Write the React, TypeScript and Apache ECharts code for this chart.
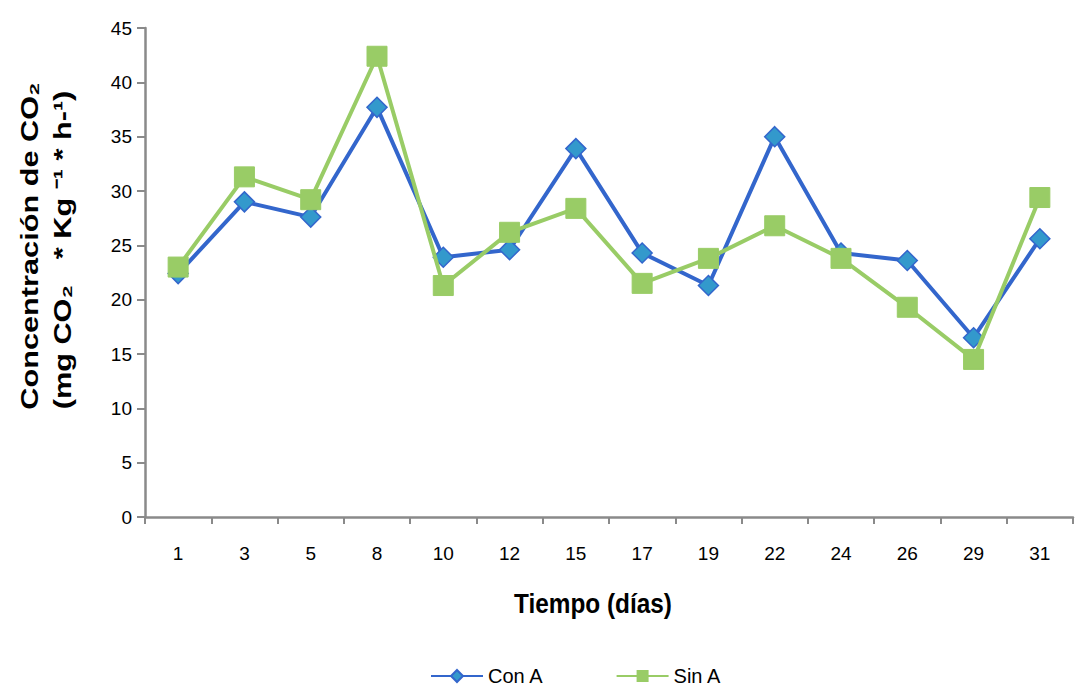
import React, { useEffect, useRef } from "react";
import * as echarts from "echarts";

const days = ["1", "3", "5", "8", "10", "12", "15", "17", "19", "22", "24", "26", "29", "31"];
const conA = [22.4, 29.0, 27.6, 37.7, 23.9, 24.6, 33.9, 24.3, 21.3, 35.0, 24.3, 23.6, 16.5, 25.6];
const sinA = [23.0, 31.3, 29.2, 42.4, 21.3, 26.2, 28.4, 21.5, 23.8, 26.8, 23.8, 19.3, 14.5, 29.4];
const yTitle1 = "Concentración de CO₂";
const yTitle2 = "(mg CO₂   * Kg ⁻¹ * h-¹)";
const xTitle = "Tiempo (días)";

const sans = "'Liberation Sans', Arial, sans-serif";

export default function App() {
  const ref = useRef<HTMLDivElement>(null);
  useEffect(() => {
    if (!ref.current) return;
    const chart = echarts.init(ref.current, null, { renderer: "svg" });
    chart.setOption({
      animation: false,
      backgroundColor: "#ffffff",
      grid: { left: 145, right: 4, top: 28, bottom: 173, containLabel: false, outerBoundsMode: "none" },
      legend: {
        top: 666,
        left: 430,
        padding: 0,
        itemGap: 72,
        itemWidth: 52,
        itemHeight: 15,
        textStyle: { fontFamily: sans, fontSize: 20, color: "#000" },
        data: ["Con A", "Sin A"],
      },
      graphic: [
        {
          type: "text",
          x: 30,
          y: 246,
          rotation: Math.PI / 2,
          scaleX: 1.28,
          style: {
            text: yTitle1,
            font: "bold 24px " + sans,
            fill: "#000",
            align: "center",
            verticalAlign: "middle",
          },
        },
        {
          type: "text",
          x: 63,
          y: 250,
          rotation: Math.PI / 2,
          scaleX: 1.28,
          style: {
            text: yTitle2,
            font: "bold 24px " + sans,
            fill: "#000",
            align: "center",
            verticalAlign: "middle",
          },
        },
        {
          type: "text",
          x: 593,
          y: 603,
          scaleX: 0.87,
          style: {
            text: xTitle,
            font: "bold 28px " + sans,
            fill: "#000",
            align: "center",
            verticalAlign: "middle",
          },
        },
      ],
      xAxis: {
        type: "category",
        data: days,
        boundaryGap: true,
        axisLine: { lineStyle: { color: "#8a8a8a", width: 2.5 } },
        axisTick: { show: true, alignWithLabel: false, length: 7, lineStyle: { color: "#8a8a8a", width: 2 } },
        axisLabel: { fontFamily: sans, fontSize: 19, color: "#000", margin: 27 },
      },
      yAxis: {
        type: "value",
        min: 0,
        max: 45,
        interval: 5,
        splitLine: { show: false },
        axisLine: { show: true, lineStyle: { color: "#8a8a8a", width: 2.5 } },
        axisTick: { show: true, length: 8, lineStyle: { color: "#8a8a8a", width: 2 } },
        axisLabel: { fontFamily: sans, fontSize: 19, color: "#000", margin: 13 },
      },
      series: [
        {
          name: "Con A",
          type: "line",
          data: conA,
          symbol: "diamond",
          symbolSize: 20,
          lineStyle: { color: "#3366cc", width: 4 },
          itemStyle: { color: "#3399cc", borderColor: "#3366cc", borderWidth: 1.5 },
          z: 2,
        },
        {
          name: "Sin A",
          type: "line",
          data: sinA,
          symbol: "rect",
          symbolSize: 20,
          lineStyle: { color: "#99cc66", width: 4 },
          itemStyle: { color: "#99cc66", borderColor: "#99cc66" },
          z: 3,
        },
      ],
    });
    return () => chart.dispose();
  }, []);
  return <div ref={ref} style={{ width: 1077, height: 690, position: "absolute", left: 0, top: 0 }} />;
}
